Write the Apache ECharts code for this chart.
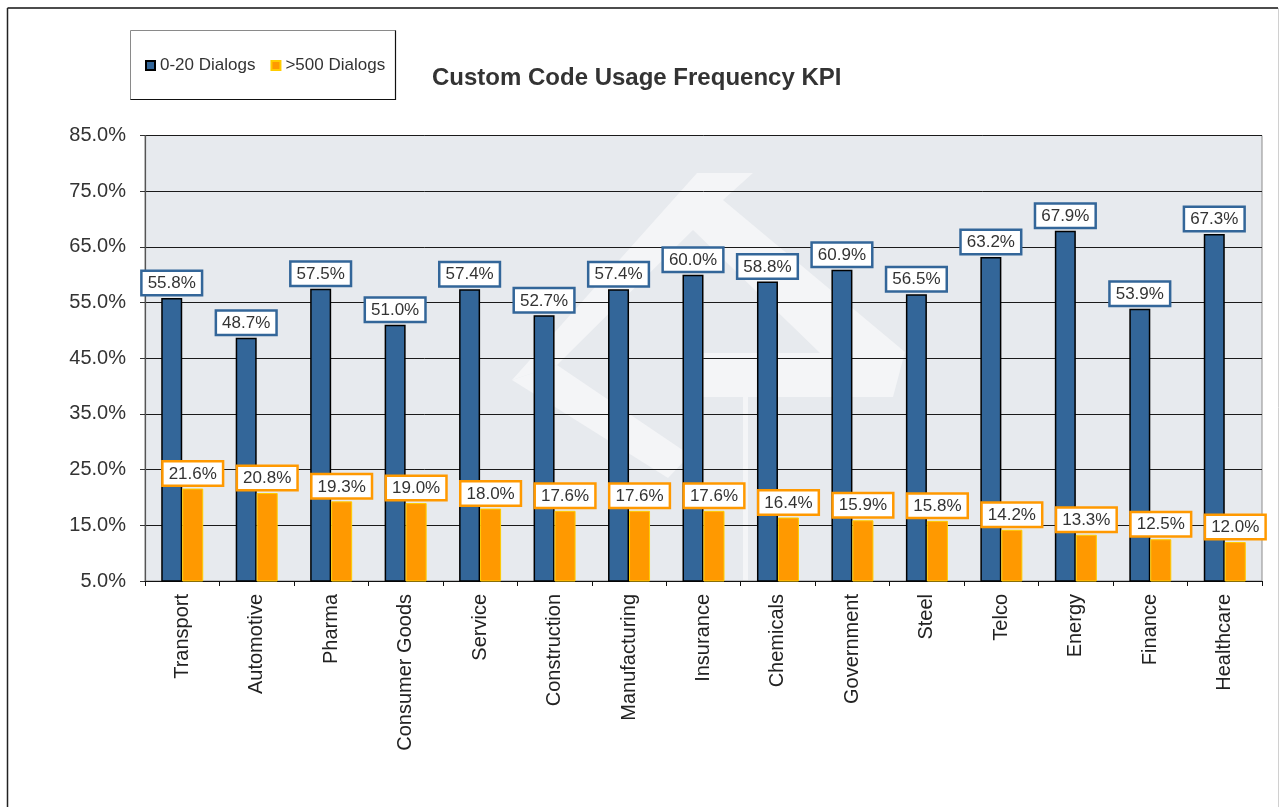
<!DOCTYPE html>
<html>
<head>
<meta charset="utf-8">
<title>Custom Code Usage Frequency KPI</title>
<script src="https://cdn.jsdelivr.net/npm/echarts@6/dist/echarts.min.js"></script>
<style>
  html, body { margin: 0; padding: 0; background: #ffffff; }
  #chart { width: 1279px; height: 807px; }
</style>
</head>
<body>
<div id="chart"></div>
<script>
// Industries along the x axis
const categories = [
  'Transport', 'Automotive', 'Pharma', 'Consumer Goods', 'Service',
  'Construction', 'Manufacturing', 'Insurance', 'Chemicals', 'Government',
  'Steel', 'Telco', 'Energy', 'Finance', 'Healthcare'
];

// Share of custom code (%) for each dialog-count bucket
const lowDialogs = [55.8, 48.7, 57.5, 51.0, 57.4, 52.7, 57.4, 60.0, 58.8, 60.9, 56.5, 63.2, 67.9, 53.9, 67.3];
const highDialogs = [21.6, 20.8, 19.3, 19.0, 18.0, 17.6, 17.6, 17.6, 16.4, 15.9, 15.8, 14.2, 13.3, 12.5, 12.0];

const seriesNames = ['0-20 Dialogs', '>500 Dialogs'];

// Value axis range and step
const yMin = 5;
const yMax = 85;
const yStep = 10;

const FONT = '"Liberation Sans", Arial, sans-serif';
const BLUE = '#336699';
const ORANGE = '#FF9900';
const pct = v => Number(v).toFixed(1) + '%';

const chart = echarts.init(document.getElementById('chart'), null, { renderer: 'canvas' });

// Faint logo shape in the plot background
const markFill = '#F4F5F7';
const watermark = [
  {
    type: 'polygon', z: 0, z2: 0, silent: true,
    shape: { points: [[512, 380], [697, 173], [753, 173], [723, 200], [905, 352], [893, 397], [846, 397], [846, 353], [820, 353], [693, 230], [557, 365]] },
    style: { fill: markFill }
  },
  {
    type: 'polygon', z: 0, z2: 0, silent: true,
    shape: { points: [[512, 380], [557, 365], [690, 455], [668, 478]] },
    style: { fill: markFill }
  },
  {
    type: 'polygon', z: 0, z2: 0, silent: true,
    shape: { points: [[697, 353], [880, 353], [893, 397], [697, 397]] },
    style: { fill: markFill }
  },
  {
    type: 'rect', z: 0, z2: 0, silent: true,
    shape: { x: 743, y: 397, width: 5, height: 183 },
    style: { fill: markFill }
  }
];

// Page frame and legend box
const frame = [
  { type: 'line', silent: true, shape: { x1: 7.5, y1: 8, x2: 1278, y2: 8 }, style: { stroke: '#111', lineWidth: 1.5 } },
  { type: 'line', silent: true, shape: { x1: 7.5, y1: 8, x2: 7.5, y2: 807 }, style: { stroke: '#222', lineWidth: 1.5 } },
  { type: 'line', silent: true, shape: { x1: 1278.5, y1: 8, x2: 1278.5, y2: 807 }, style: { stroke: '#d0d0d0', lineWidth: 1 } },
  { type: 'rect', silent: true, shape: { x: 130.5, y: 30.5, width: 265, height: 69 }, style: { fill: '#fff', stroke: '#8a8a8a', lineWidth: 1 } },
  { type: 'line', silent: true, shape: { x1: 395.5, y1: 30.5, x2: 395.5, y2: 100 }, style: { stroke: '#111', lineWidth: 1.2 } },
  { type: 'line', silent: true, shape: { x1: 130.5, y1: 99.5, x2: 396, y2: 99.5 }, style: { stroke: '#111', lineWidth: 1.2 } }
];

function boxedLabel(borderColor) {
  return {
    show: true,
    position: 'top',
    distance: 4,
    formatter: p => pct(p.value),
    fontFamily: FONT,
    fontSize: 17,
    color: '#333',
    backgroundColor: '#fff',
    borderColor: borderColor,
    borderWidth: 2.5,
    padding: [3, 5, 2, 5]
  };
}

chart.setOption({
  animation: false,
  backgroundColor: '#ffffff',
  textStyle: { fontFamily: FONT },
  title: {
    text: 'Custom Code Usage Frequency KPI',
    left: 432,
    top: 66,
    padding: 0,
    textStyle: { fontFamily: FONT, fontSize: 24, fontWeight: 'bold', color: '#333' }
  },
  legend: {
    left: 145,
    top: 57,
    padding: 0,
    itemWidth: 9,
    itemHeight: 9,
    itemGap: 15,
    icon: 'rect',
    data: seriesNames,
    textStyle: { fontFamily: FONT, fontSize: 17, color: '#333' }
  },
  graphic: { elements: frame.concat(watermark) },
  grid: {
    left: 145,
    right: 17,
    top: 135.5,
    bottom: 226,
    show: true,
    backgroundColor: '#E7EAEE',
    borderColor: '#8c8c8c',
    borderWidth: 1
  },
  xAxis: {
    type: 'category',
    data: categories,
    z: 3,
    axisLine: { lineStyle: { color: '#111', width: 1.2 } },
    axisTick: { show: true, length: 5, lineStyle: { color: '#111' } },
    axisLabel: {
      rotate: 90,
      margin: 13,
      fontFamily: FONT,
      fontSize: 20,
      color: '#222'
    }
  },
  yAxis: {
    type: 'value',
    min: yMin,
    max: yMax,
    interval: yStep,
    z: 1,
    axisLine: { show: true, lineStyle: { color: '#555', width: 1.2 } },
    axisTick: { show: true, length: 5, lineStyle: { color: '#333' } },
    axisLabel: {
      formatter: v => pct(v),
      margin: 19,
      fontFamily: FONT,
      fontSize: 20,
      color: '#333'
    },
    splitLine: { show: true, lineStyle: { color: '#1a1a1a', width: 1 } }
  },
  series: [
    {
      name: seriesNames[0],
      type: 'bar',
      data: lowDialogs,
      barWidth: 21,
      barGap: '0%',
      z: 3,
      itemStyle: { color: BLUE, borderColor: '#000', borderWidth: 1.5 },
      label: boxedLabel(BLUE)
    },
    {
      name: seriesNames[1],
      type: 'bar',
      data: highDialogs,
      barWidth: 21,
      barGap: '0%',
      z: 3,
      itemStyle: { color: ORANGE, borderColor: '#FFCC00', borderWidth: 1 },
      label: boxedLabel(ORANGE)
    }
  ]
});
</script>
</body>
</html>
